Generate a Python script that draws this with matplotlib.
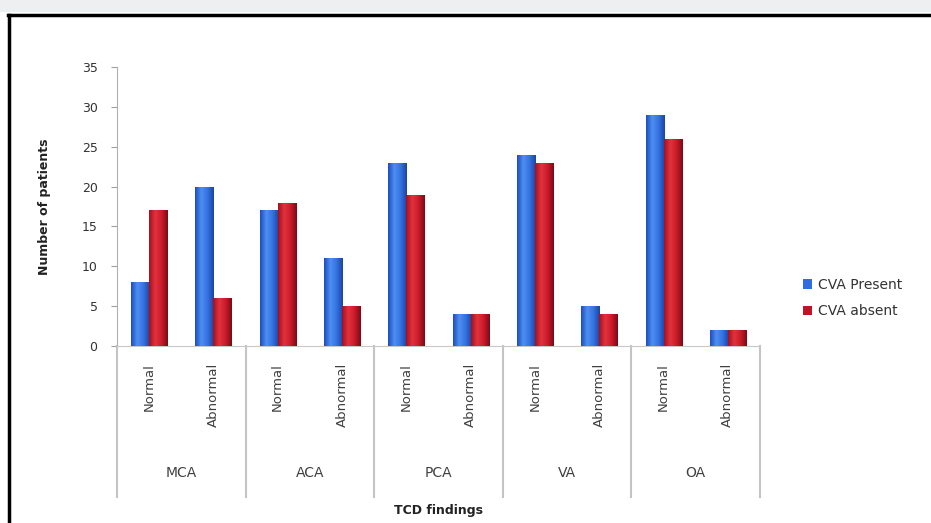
import numpy as np
import matplotlib
matplotlib.use("Agg")
import matplotlib.pyplot as plt
from matplotlib.colors import LinearSegmentedColormap
from matplotlib.patches import Rectangle
from matplotlib.lines import Line2D
import matplotlib.transforms as mtransforms

arteries = ["MCA", "ACA", "PCA", "VA", "OA"]
findings = ["Normal", "Abnormal"]
cva_present = [8, 20, 17, 11, 23, 4, 24, 5, 29, 2]
cva_absent = [17, 6, 18, 5, 19, 4, 23, 4, 26, 2]
series_names = ["CVA Present", "CVA absent"]
yticks = [0, 5, 10, 15, 20, 25, 30, 35]

blue_cm = LinearSegmentedColormap.from_list(
    "b", ["#1c4fbf", "#4d8ff0", "#3472e2", "#1b44a6"])
red_cm = LinearSegmentedColormap.from_list(
    "r", ["#a3121e", "#e2323e", "#c91b29", "#7c0b15"])

fig = plt.figure(figsize=(9.31, 5.23), dpi=100)
fig.patch.set_facecolor("white")

# page strip and frame
fig.patches.append(Rectangle((0, 1 - 12 / 523), 1, 12 / 523, transform=fig.transFigure,
                             facecolor="#eeeff1", edgecolor="none", zorder=0))
fig.lines.append(Line2D([8 / 931, 1], [1 - 14.5 / 523] * 2, transform=fig.transFigure,
                        color="black", lw=2.5))
fig.lines.append(Line2D([9 / 931] * 2, [0, 1 - 14.5 / 523], transform=fig.transFigure,
                        color="black", lw=2.5))

ax = fig.add_axes([117 / 931, 1 - 346 / 523, (760 - 117) / 931, (346 - 67) / 523])
n = len(cva_present)
x = np.arange(n)
w = 0.28
grad = np.linspace(0, 1, 64).reshape(1, -1)

for vals, off, cm in [(cva_present, -w / 2, blue_cm), (cva_absent, w / 2, red_cm)]:
    bars = ax.bar(x + off, vals, width=w, color="none", edgecolor="none", zorder=3)
    for b in bars:
        x0, h = b.get_x(), b.get_height()
        im = ax.imshow(grad, extent=[x0, x0 + w, 0, h], aspect="auto", cmap=cm, zorder=3)
        im.set_clip_path(b)

ax.set_xlim(-0.5, n - 0.5)
ax.set_ylim(0, 35)
ax.set_yticks(yticks)
ax.tick_params(axis="y", length=4, color="#a0a0a0", labelsize=9, labelcolor="#333333", pad=10)
ax.set_xticks(x)
ax.set_xticklabels(findings * len(arteries), rotation=90, va="top")
ax.tick_params(axis="x", length=0, labelsize=9.5, labelcolor="#404040", pad=12)
for s in ["top", "right"]:
    ax.spines[s].set_visible(False)
ax.spines["left"].set_color("#b0b0b0")
ax.spines["bottom"].set_color("#c8c8c8")

trans = mtransforms.blended_transform_factory(ax.transData, ax.transAxes)
for k in range(len(arteries) + 1):
    ax.add_line(Line2D([2 * k - 0.5] * 2, [0, -0.541], transform=trans,
                       color="#c4c4c4", lw=1.5, clip_on=False))
for k, name in enumerate(arteries):
    ax.text(2 * k + 0.5, -0.455, name, transform=trans, ha="center", va="center",
            fontsize=10, color="#404040")

ax.text(0.5, -0.59, "TCD findings", transform=ax.transAxes, ha="center", va="center",
        fontsize=9, fontweight="bold", color="#222222")
ax.set_ylabel("Number of patients", fontsize=9, fontweight="bold", color="#222222", labelpad=22)

handles = [Rectangle((0, 0), 1, 1, facecolor="#2f6de0"), Rectangle((0, 0), 1, 1, facecolor="#b81825")]
fig.legend(handles, series_names, loc="center left", bbox_to_anchor=(790 / 931, 1 - 298 / 523),
           frameon=False, fontsize=10, handlelength=0.7, handleheight=0.7,
           handletextpad=0.4, labelspacing=0.9, labelcolor="#333333")

fig.savefig("out.png", dpi=100)
